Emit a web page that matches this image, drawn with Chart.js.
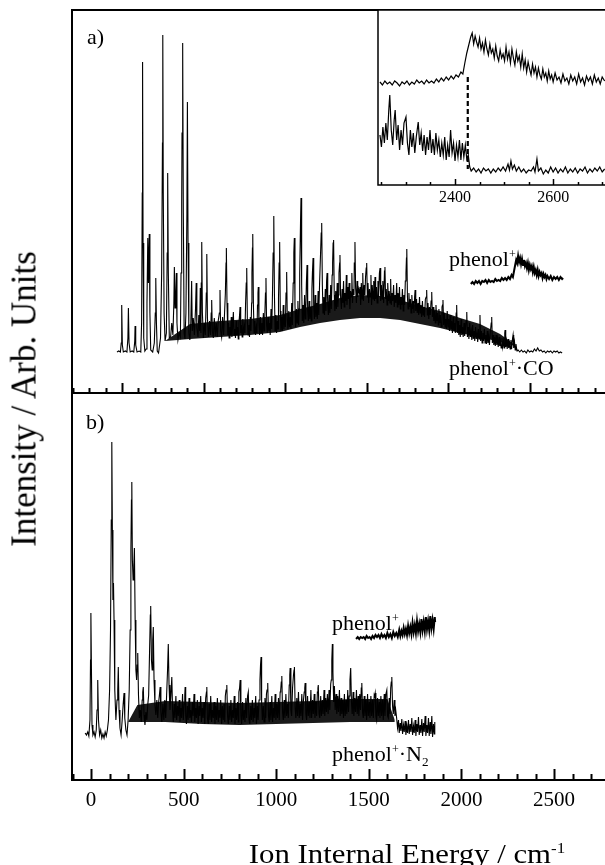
<!DOCTYPE html>
<html>
<head>
<meta charset="utf-8">
<script src="https://cdn.jsdelivr.net/npm/chart.js@4.4.1/dist/chart.umd.min.js"></script>
<style>
  html, body { margin: 0; padding: 0; background: #fff; }
  body { width: 605px; height: 865px; overflow: hidden; position: relative;
         font-family: "Liberation Serif", "Times New Roman", serif; color: #000; }
  canvas { position: absolute; top: 0; }
  .lbl { position: absolute; white-space: nowrap; line-height: 1; }
  .lbl sup { font-size: 55%; vertical-align: 0.65em; line-height: 0; }
  .lbl sub { font-size: 60%; vertical-align: -0.35em; line-height: 0; }
</style>
</head>
<body>
<canvas id="panel-a" width="620" height="400" style="left:0"></canvas>
<canvas id="panel-b" width="620" height="865" style="left:0"></canvas>
<canvas id="inset" width="260" height="220" style="left:360px"></canvas>
<div id="labels"></div>
<script>
(function () {
    "use strict";

    // tick labels
    const energyTicks = [0, 500, 1000, 1500, 2000, 2500];
    const insetTicks = [2400, 2600];

    // a) phenol+.CO : [energy, intensity]
    const coSpectrum = [
        [-31,41],[-20,42],[-10,41],[-5,50],[-2,88],[2,48],[8,41],[20,42],[30,41],[36,55],[39,85],[43,50],[50,41],[62,42],[72,41],[78,52],[80,67],[84,48],[92,41],[105,42],[115,41],[120,70],[124,200],[126,331],[129,150],[133,55],[140,42],[148,44],[153,90],[158,155],[162,110],[167,159],[171,80],[176,43],[188,41],[198,50],[204,80],[207,115],[211,70],[216,42],[224,40],[236,55],[243,120],[248,250],[250,358],[253,200],[258,80],[264,52],[272,60],[277,140],[280,220],[284,120],[290,55],[298,56],[305,70],[312,58],[318,90],[321,126],[325,85],[329,95],[333,120],[337,70],[343,53],[350,60],[358,56],[362,120],[366,191],[368,260],[372,350],[376,180],[381,60],[386,54],[392,80],[398,180],[401,291],[405,150],[410,60],[416,53],[422,70],[427,112],[431,62],[437,75],[444,58],[451,85],[455,110],[459,65],[466,56],[471,78],[476,62],[480,105],[484,60],[486,110],[489,151],[493,80],[499,55],[505,70],[511,58],[517,100],[520,139],[524,75],[530,56],[537,72],[543,58],[547,80],[550,93],[554,62],[560,55],[566,75],[572,57],[578,70],[584,56],[590,72],[597,80],[601,103],[605,62],[611,56],[617,76],[623,58],[629,80],[634,100],[638,130],[640,145],[644,90],
        [649,58],[653,70],[657,55],[662,66],[666,58],[670,76],[674,56],[679,68],[683,81],[687,58],[691,64],[696,55],[700,72],[704,58],[709,66],[713,54],[717,70],[721,78],[724,86],[728,60],[732,68],[737,56],[741,74],[745,58],[750,66],[754,60],[758,90],[762,110],[765,125],[769,72],[773,58],[778,68],[782,56],[787,76],[791,62],[795,90],[797,120],[800,145],[802,159],[806,88],[810,60],[815,72],[819,58],[824,66],[828,60],[831,88],[834,100],[836,106],[840,68],[844,58],[849,76],[853,60],[858,70],[862,58],[867,80],[871,62],[875,72],[880,100],[883,115],[887,68],[891,60],[896,76],[900,62],[905,70],[909,58],[914,84],[918,64],[922,90],[927,140],[931,177],[935,98],[939,62],[944,78],[948,60],[953,72],[957,64],[960,95],[964,130],[967,151],[971,82],[975,62],[980,76],[984,62],[989,88],[993,64],[998,78],[1002,66],[1006,100],[1010,121],[1014,72],[1018,64],[1023,82],[1027,66],[1032,76],[1036,64],[1041,90],[1045,68],[1050,110],[1054,140],[1057,155],[1061,88],[1065,66],[1070,84],[1074,70],[1079,92],[1083,68],[1087,84],[1090,120],[1095,170],[1098,195],[1102,108],[1106,72],[1111,88],[1115,70],[1120,98],[1124,74],[1128,86],[1131,110],[1135,128],[1139,82],[1143,72],[1148,92],[1152,74],[1157,86],[1161,72],[1165,104],[1168,120],[1172,135],[1176,86],[1180,74],[1185,98],[1189,76],[1194,90],[1198,74],[1203,102],[1207,78],[1212,110],[1218,140],[1222,160],[1225,170],[1229,108],[1233,80],[1238,96],[1242,78],[1247,104],[1251,82],[1255,112],[1258,120],[1262,88],[1266,78],[1271,98],[1275,80],[1280,108],[1284,84],[1289,118],[1292,130],[1295,150],[1298,153],[1302,98],[1306,82],[1311,102],[1315,84],[1320,110],[1324,86],[1328,98],[1331,120],[1335,130],[1337,138],
        [1341,95],[1346,84],[1350,104],[1355,90],[1359,112],[1363,86],[1367,100],[1372,92],[1376,118],[1380,88],[1385,106],[1389,94],[1393,110],[1398,84],[1402,102],[1406,96],[1410,120],[1414,90],[1419,104],[1423,98],[1425,130],[1429,151],[1433,105],[1438,90],[1442,112],[1446,96],[1451,104],[1456,100],[1460,106],[1464,88],[1468,110],[1473,94],[1477,120],[1481,92],[1486,108],[1490,98],[1494,116],[1498,125],[1501,130],[1505,96],[1509,110],[1513,90],[1518,104],[1522,96],[1527,118],[1531,88],[1535,108],[1540,94],[1544,112],[1549,92],[1552,116],[1556,94],[1561,106],[1565,90],[1570,112],[1574,96],[1579,120],[1583,125],[1587,92],[1591,108],[1596,94],[1600,112],[1605,90],[1610,122],[1613,126],[1617,94],[1621,104],[1626,88],[1630,110],[1635,92],[1639,102],[1644,90],[1648,114],[1652,88],[1657,100],[1661,92],[1666,108],[1670,86],[1675,98],[1680,90],[1685,110],[1689,86],[1693,100],[1698,88],[1702,106],[1707,84],[1711,96],[1716,88],[1720,104],[1725,82],[1729,98],[1734,88],[1738,112],[1742,120],[1745,135],[1747,144],[1751,96],[1755,84],[1760,100],[1764,86],[1769,94],[1773,80],[1778,98],[1782,84],[1787,92],[1791,80],[1795,96],[1798,103],[1802,82],[1807,94],[1811,80],[1816,90],[1820,78],[1825,96],[1829,80],[1834,88],[1838,76],[1843,92],[1847,78],[1852,86],[1856,76],[1861,94],[1866,96],[1869,103],[1873,78],[1877,90],[1882,74],[1886,86],[1891,78],[1896,92],[1900,101],[1904,76],[1908,86],[1913,72],[1917,82],[1922,70],[1926,88],[1931,72],[1935,80],[1940,68],[1944,84],[1949,70],[1953,78],[1958,66],[1963,86],[1966,88],[1969,93],[1973,68],[1977,80],[1982,66],[1986,74],[1991,64],[1995,82],[2000,66],[2004,74],[2009,62],[2013,78],[2018,64],[2022,72],[2027,60],[2031,76],[2036,62],[2040,70],[2045,60],[2050,80],[2053,88],[2057,60],[2062,72],[2066,58],[2071,68],[2075,56],[2080,74],[2084,58],[2089,66],[2093,56],[2098,70],[2102,57],[2107,64],[2111,72],[2115,81],[2119,56],[2124,66],[2128,54],[2133,70],[2137,56],[2142,62],[2146,53],[2151,68],[2155,54],[2160,62],[2164,52],[2169,66],[2173,54],[2178,60],[2182,51],[2187,64],[2191,54],[2196,78],[2200,52],[2205,62],[2209,50],[2214,60],[2218,52],[2223,64],[2227,50],[2232,58],[2236,49],[2241,62],[2245,50],[2250,56],[2254,48],[2259,60],[2265,70],[2268,76],[2272,50],[2277,58],[2281,48],[2286,56],[2290,47],[2295,58],[2299,48],[2304,54],[2308,46],[2313,56],[2317,47],[2322,52],[2326,45],[2331,55],[2335,46],[2340,52],[2344,45],[2348,60],[2350,63],[2354,46],[2359,52],[2363,44],[2368,54],[2372,45],[2377,50],[2381,44],[2386,53],[2390,44],[2396,55],[2399,58],[2403,45],[2408,51],[2412,43],[2417,49],[2421,44],[2424,42],
        [2430,43],[2440,41],[2450,43],[2460,41],[2470,42],[2480,40],[2490,43],[2500,41],[2510,42],[2520,41],[2530,44],[2540,42],[2550,45],[2560,42],[2570,43],[2580,41],[2590,42],[2600,40],[2610,42],[2620,41],[2630,42],[2640,40],[2650,42],[2660,41],[2670,42],[2680,40],[2690,41],[2700,40]
    ];
    // dense noise band under a)
    const coBandE    = [264, 417, 601, 785, 969, 1092, 1215, 1337, 1460, 1583, 1706, 1828, 1951, 2074, 2196, 2319, 2411];
    const coBandLow  = [52, 54, 56, 58, 61, 66, 70, 73, 75, 75, 73, 69, 65, 60, 56, 51, 47];
    const coBandHigh = [52, 69, 72, 74, 78, 84, 89, 95, 98, 97, 93, 87, 82, 75, 69, 59, 48];

    // a) bare phenol+ reference trace
    const phenolA = [
        [2140,109],[2150,111],[2160,109],[2170,112],[2180,110],[2190,112],[2200,109],[2210,112],[2220,111],[2230,113],[2240,110],[2250,113],[2260,111],[2270,112],[2280,111],[2290,114],[2300,112],[2310,113],[2320,112],[2330,115],[2340,113],[2350,115],[2360,113],[2370,116],[2380,114],[2390,118],[2398,116],[2405,122],[2412,128],[2418,133],[2424,130],[2430,137],[2436,131],[2442,135],[2448,129],[2454,134],[2460,128],[2466,133],[2472,127],[2478,130],[2484,125],[2490,130],[2496,123],[2502,128],[2508,124],[2514,127],[2520,121],[2526,126],[2532,120],[2538,123],[2544,118],[2550,123],[2556,117],[2562,121],[2568,118],[2574,120],[2580,115],[2586,119],[2592,116],[2598,118],[2604,114],[2610,117],[2620,114],[2630,117],[2640,113],[2650,116],[2660,114],[2670,116],[2680,113],[2690,116],[2700,114],[2706,115]
    ];

    // b) phenol+.N2
    const n2Spectrum = [
        [-32,47],[-25,45],[-18,48],[-12,44],[-6,60],[-3,120],[-1,167],[2,110],[5,55],[10,45],[16,48],[22,43],[28,50],[32,70],[36,100],[40,60],[46,45],[52,50],[58,42],[64,46],[70,42],[76,48],[82,44],[88,50],[94,60],[100,90],[105,150],[109,260],[112,338],[115,250],[118,180],[121,197],[124,160],[128,90],[134,60],[140,80],[144,90],[147,113],[151,70],[156,52],[162,45],[168,60],[173,75],[178,87],[182,62],[188,50],[194,45],[200,60],[206,90],[211,150],[215,230],[218,280],[220,298],[223,220],[227,200],[231,215],[234,232],[238,160],[242,110],[246,100],[249,115],[252,127],[256,85],[261,62],[266,70],[271,58],[276,80],[279,88],[282,93],[286,65],[291,55],[296,68],[301,60],[306,75],[311,85],[316,130],[320,165],[322,174],[326,120],[330,110],[333,140],[336,153],[340,100],[345,75],[350,65],[355,80],[360,62],[365,78],[369,85],[373,93],[377,68],[382,58],[388,76],[393,60],[398,80],[403,62],[408,85],[413,110],[417,136],[421,95],[426,70],[431,85],[436,103],
        [440,70],[444,58],[449,76],[453,62],[458,84],[462,60],[467,74],[471,64],[476,80],[480,58],[485,72],[489,62],[494,86],[498,60],[503,76],[506,85],[508,93],[511,64],[515,56],[520,74],[524,60],[529,82],[533,62],[538,70],[542,58],[547,78],[551,64],[556,86],[560,58],[565,72],[569,62],[574,80],[578,56],[583,74],[587,64],[592,84],[596,58],[601,72],[605,62],[610,78],[614,56],[619,82],[623,88],[625,93],[628,62],[633,56],[637,76],[642,60],[646,84],[651,58],[655,70],[660,62],[664,78],[669,56],[673,74],[678,60],[682,82],[687,58],[691,70],[696,62],[700,80],[705,56],[709,74],[714,60],[718,76],[722,58],[725,84],[729,90],[733,95],[737,64],[741,56],[746,74],[750,60],[755,80],[759,58],[764,70],[768,62],[773,84],[777,56],[782,72],[786,60],[791,78],[795,58],[798,88],[802,92],[805,100],[809,64],[813,56],[818,78],[822,60],[827,70],[831,58],[836,82],[840,62],[845,84],[849,88],[853,60],[857,56],[862,74],[866,60],[871,80],[875,58],[880,72],[884,62],[889,84],[893,56],[898,74],[902,60],[907,80],[912,100],[915,115],[918,123],[921,78],[925,60],[930,74],[934,58],[939,82],[943,62],[947,86],[950,90],[954,97],[958,64],[962,58],[967,78],[971,60],[976,84],[980,58],[985,72],[989,62],[994,86],[998,60],[1003,76],[1007,62],[1012,82],[1016,60],[1021,88],[1024,90],[1027,98],[1030,104],[1034,68],[1038,60],[1043,80],[1047,62],[1052,86],[1056,64],[1061,76],[1065,62],[1070,95],[1073,105],[1075,112],[1079,70],[1083,64],[1088,92],[1093,105],[1096,110],[1098,113],[1102,72],[1106,62],[1111,82],[1115,64],[1120,88],[1124,62],[1129,76],[1133,64],[1138,86],[1142,60],[1147,80],[1151,88],[1154,92],[1156,97],[1160,66],[1164,60],[1169,84],[1173,64],[1178,78],[1182,62],[1187,90],[1191,62],[1196,80],[1200,66],[1205,86],[1209,62],[1214,78],[1218,64],[1222,88],[1225,92],[1227,95],[1231,66],[1235,62],[1240,84],[1244,64],[1249,80],[1253,66],[1258,90],[1262,64],[1267,82],[1271,68],[1276,86],[1280,66],[1285,90],[1289,70],[1294,96],[1297,100],[1300,120],[1303,136],[1306,108],[1310,78],[1314,94],[1318,70],[1323,86],[1327,66],[1332,84],[1336,68],[1341,90],[1345,64],[1350,82],[1354,66],[1359,80],[1363,62],[1368,86],[1372,64],[1377,80],[1381,66],[1386,90],[1390,68],[1394,84],[1398,100],[1402,112],[1406,78],[1410,66],[1415,88],[1419,64],[1424,82],[1428,68],[1433,90],[1437,66],[1442,84],[1446,64],[1451,86],[1455,70],[1459,92],[1462,97],[1466,68],[1470,62],[1475,84],[1479,64],[1484,80],[1488,60],[1493,86],[1497,64],[1502,78],[1506,62],[1511,84],[1515,64],[1520,80],[1524,62],[1529,85],[1531,84],[1534,87],[1538,64],[1542,60],[1547,82],[1551,64],[1556,78],[1560,62],[1565,84],[1569,64],[1574,80],[1578,60],[1583,86],[1587,64],[1592,86],[1597,90],[1601,64],[1605,62],[1610,82],[1614,66],[1618,92],[1621,98],[1624,103],[1628,74],[1632,66],[1637,80],[1641,64],[1645,70],[1650,62],
        [1655,52],[1660,60],[1664,47],[1669,57],[1673,49],[1678,61],[1682,46],[1687,55],[1691,48],[1696,59],[1700,45],[1705,54],[1709,47],[1714,60],[1718,46],[1723,56],[1727,48],[1732,62],[1736,45],[1741,54],[1745,47],[1750,60],[1754,44],[1759,56],[1763,48],[1768,63],[1772,45],[1777,55],[1781,47],[1786,61],[1790,44],[1795,57],[1799,48],[1804,64],[1808,44],[1813,55],[1817,47],[1822,62],[1826,44],[1831,58],[1835,46],[1840,64],[1844,43],[1849,56],[1853,46],[1856,58]
    ];
    const n2BandE    = [200, 250, 400, 600, 800, 1000, 1200, 1400, 1600, 1640];
    const n2BandLow  = [58, 58, 58, 56, 55, 56, 57, 58, 58, 58];
    const n2BandHigh = [58, 75, 79, 78, 77, 78, 79, 81, 81, 60];

    // b) bare phenol+ reference trace
    const phenolB = [
        [1431,141],[1440,143],[1448,141],[1456,143],[1464,142],[1472,143],[1480,141],[1488,144],[1496,142],[1504,143],[1512,141],[1520,144],[1528,142],[1536,145],[1544,143],[1552,145],[1560,142],[1568,146],[1576,143],[1584,145],[1592,142],[1600,147],[1608,143],[1616,146],[1624,142],[1632,148],[1640,144],[1648,147],[1656,143],[1664,150],[1670,144],[1676,149],[1682,145],[1688,152],[1694,146],[1700,151],[1706,145],[1712,154],[1718,147],[1724,153],[1730,146],[1736,157],[1742,148],[1748,155],[1754,147],[1760,159],[1766,149],[1772,156],[1778,148],[1784,161],[1790,150],[1796,158],[1802,149],[1808,163],[1814,151],[1820,159],[1826,150],[1832,164],[1838,152],[1844,160],[1850,151],[1856,163],[1858,158]
    ];

    // inset: dissociation threshold region
    const insetPhenol = [
        [2247,103],[2252,100],[2257,104],[2262,101],[2267,103],[2272,100],[2277,104],[2282,102],[2287,99],[2292,103],[2297,101],[2302,104],[2307,100],[2312,103],[2317,101],[2322,105],[2327,102],[2332,104],[2337,101],[2342,105],[2347,102],[2352,104],[2357,102],[2362,106],[2367,103],[2372,107],[2377,104],[2382,108],[2387,105],[2392,109],[2397,106],[2402,110],[2407,108],[2412,113],[2416,111],[2420,122],[2424,132],[2428,140],[2432,148],[2435,152],[2438,141],[2441,149],[2444,143],[2447,138],[2450,147],[2453,136],[2456,142],[2459,133],[2462,145],[2465,136],[2468,130],[2471,141],[2474,132],[2477,136],[2480,127],[2483,139],[2486,129],[2489,124],[2492,135],[2495,127],[2498,131],[2501,124],[2504,138],[2507,126],[2510,133],[2513,122],[2516,136],[2519,127],[2522,120],[2525,133],[2528,124],[2531,129],[2534,118],[2537,131],[2540,117],[2543,125],[2546,113],[2549,123],[2552,116],[2555,110],[2558,121],[2561,112],[2564,118],[2567,108],[2570,117],[2573,110],[2576,106],[2579,116],[2582,108],[2585,112],[2588,104],[2591,114],[2594,106],[2597,110],[2600,103],[2604,112],[2608,105],[2612,108],[2616,102],[2620,111],[2624,104],[2628,107],[2632,101],[2636,110],[2640,104],[2644,108],[2648,101],[2652,111],[2656,103],[2660,107],[2664,100],[2668,109],[2672,104],[2676,108],[2680,101],[2684,110],[2688,103],[2692,107],[2696,101],[2700,108],[2705,104]
    ];
    const insetCO = [
        [2247,50],[2250,38],[2253,58],[2256,42],[2259,62],[2262,45],[2265,75],[2267,90],[2270,55],[2273,40],[2276,65],[2278,75],[2281,45],[2284,60],[2287,35],[2290,55],[2293,40],[2296,62],[2300,68],[2303,42],[2306,30],[2309,55],[2312,38],[2315,52],[2318,32],[2321,48],[2325,63],[2328,40],[2331,52],[2334,34],[2337,50],[2340,30],[2343,48],[2346,35],[2349,55],[2352,32],[2355,46],[2358,30],[2361,52],[2364,35],[2367,45],[2370,28],[2373,42],[2376,30],[2379,48],[2382,25],[2385,40],[2388,28],[2391,55],[2394,32],[2397,42],[2400,24],[2403,40],[2406,28],[2409,45],[2412,25],[2415,42],[2418,28],[2421,40],[2424,26],[2427,30],[2430,18],[2433,14],[2438,17],[2443,13],[2448,16],[2453,12],[2458,17],[2463,14],[2468,16],[2473,12],[2478,16],[2483,13],[2488,17],[2493,14],[2498,18],[2503,14],[2508,21],[2511,15],[2514,24],[2517,16],[2521,20],[2525,14],[2530,18],[2535,13],[2540,16],[2545,12],[2550,15],[2555,14],[2560,18],[2563,13],[2567,26],[2570,14],[2575,17],[2580,11],[2585,15],[2590,12],[2595,18],[2600,13],[2605,17],[2610,12],[2615,16],[2620,13],[2625,18],[2630,12],[2635,16],[2640,13],[2645,17],[2650,12],[2655,16],[2660,14],[2665,18],[2670,12],[2675,16],[2680,13],[2685,17],[2690,14],[2695,18],[2700,13],[2705,16]
    ];
    const insetEdge = [[2426,108],[2426,16]];

    const SERIF = '"Liberation Serif", "Times New Roman", serif';

    // frame + inward tick marks, the way the original figure draws them
    const frameTicks = {
        id: "frameTicks",
        beforeDatasetsDraw(chart, args, o) {
            if (!o.fillBg) return;
            const a = chart.chartArea, ctx = chart.ctx;
            ctx.save();
            ctx.fillStyle = "#fff";
            ctx.fillRect(a.left, a.top, a.right - a.left, a.bottom - a.top);
            ctx.restore();
        },
        afterDatasetsDraw(chart, args, o) {
            const a = chart.chartArea, ctx = chart.ctx, x = chart.scales.x;
            ctx.save();
            ctx.strokeStyle = "#000";
            ctx.lineWidth = o.tickWidth;
            const start = Math.ceil(x.min / o.minor) * o.minor;
            for (let v = start; v <= x.max; v += o.minor) {
                const px = Math.round(x.getPixelForValue(v)) + 0.5;
                const len = v % o.major === 0 ? o.majorLen : o.minorLen;
                ctx.beginPath();
                ctx.moveTo(px, a.bottom);
                ctx.lineTo(px, a.bottom - len);
                ctx.stroke();
            }
            ctx.lineWidth = o.frameWidth;
            ctx.strokeRect(a.left, a.top, a.right - a.left, a.bottom - a.top);
            ctx.restore();
        }
    };

    function trace(points, width, extra) {
        return Object.assign({
            data: points.map(function (p) { return { x: p[0], y: p[1] }; }),
            borderColor: "#000",
            borderWidth: width,
            pointRadius: 0,
            fill: false,
            order: 0
        }, extra || {});
    }

    function band(E, low, high) {
        return [
            {
                data: E.map(function (e, i) { return { x: e, y: low[i] }; }),
                borderColor: "rgba(0,0,0,0)", borderWidth: 0, pointRadius: 0, fill: false, order: 1
            },
            {
                data: E.map(function (e, i) { return { x: e, y: high[i] }; }),
                borderColor: "rgba(0,0,0,0)", borderWidth: 0, pointRadius: 0,
                fill: "-1", backgroundColor: "#1a1a1a", order: 1
            }
        ];
    }

    function baseOptions(padding, xScale, yMax, ticks) {
        return {
            responsive: false,
            animation: false,
            devicePixelRatio: 1,
            layout: { padding: padding },
            plugins: { legend: { display: false }, tooltip: { enabled: false }, frameTicks: ticks },
            scales: { x: xScale, y: { display: false, min: 0, max: yMax } },
            elements: { line: { tension: 0 } }
        };
    }

    function labelAxis(min, max, values, size, pad, height) {
        return {
            type: "linear", min: min, max: max,
            afterBuildTicks: function (s) { s.ticks = values.map(function (v) { return { value: v }; }); },
            afterFit: function (s) { s.height = height; },
            grid: { display: false, drawTicks: false },
            border: { display: false },
            ticks: { color: "#000", autoSkip: false, maxRotation: 0, padding: pad,
                     font: { family: SERIF, size: size },
                     callback: function (v) { return String(v); } }
        };
    }

    // panel a
    new Chart(document.getElementById("panel-a"), {
        type: "line",
        data: { datasets: [trace(coSpectrum, 1.1), trace(phenolA, 2)].concat(band(coBandE, coBandLow, coBandHigh)) },
        options: baseOptions({ left: 72, top: 10, right: 8, bottom: 7 },
            { type: "linear", display: false, min: -307, max: 3006 }, 383,
            { minor: 100, major: 500, minorLen: 5, majorLen: 10, tickWidth: 2, frameWidth: 2 }),
        plugins: [frameTicks]
    });

    // panel b
    new Chart(document.getElementById("panel-b"), {
        type: "line",
        data: { datasets: [trace(n2Spectrum, 1.1), trace(phenolB, 2)].concat(band(n2BandE, n2BandLow, n2BandHigh)) },
        options: baseOptions({ left: 72, top: 393, right: 8, bottom: 0 },
            labelAxis(-103, 2813, energyTicks, 21, 8, 85), 387,
            { minor: 100, major: 500, minorLen: 6, majorLen: 11, tickWidth: 2, frameWidth: 2 }),
        plugins: [frameTicks]
    });

    // inset
    new Chart(document.getElementById("inset"), {
        type: "line",
        data: { datasets: [
            trace(insetPhenol, 1.2),
            trace(insetCO, 1.2),
            trace(insetEdge, 2.2, { borderDash: [5, 3] })
        ] },
        options: baseOptions({ left: 18, top: 10, right: 8, bottom: 0 },
            labelAxis(2243, 2720, insetTicks, 16, 3, 35), 175,
            { minor: 50, major: 200, minorLen: 3, majorLen: 6, tickWidth: 1.5, frameWidth: 1.5, fillBg: true }),
        plugins: [frameTicks]
    });

    // text
    const labels = [
        { html: "a)", x: 87, base: 44, size: 22 },
        { html: "b)", x: 86, base: 429, size: 22 },
        { html: "phenol<sup>+</sup>", x: 449, base: 266, size: 22 },
        { html: "phenol<sup>+</sup>·CO", x: 449, base: 375, size: 22 },
        { html: "phenol<sup>+</sup>", x: 332, base: 630, size: 22 },
        { html: "phenol<sup>+</sup>·N<sub>2</sub>", x: 332, base: 761, size: 22 }
    ];
    const host = document.getElementById("labels");
    labels.forEach(function (l) {
        const d = document.createElement("div");
        d.className = "lbl";
        d.innerHTML = l.html;
        d.style.fontSize = l.size + "px";
        d.style.left = l.x + "px";
        d.style.top = (l.base - 0.8375 * l.size) + "px";
        host.appendChild(d);
    });

    const yTitle = document.createElement("div");
    yTitle.className = "lbl";
    yTitle.textContent = "Intensity / Arb. Units";
    yTitle.style.fontSize = "35px";
    yTitle.style.left = "24px";
    yTitle.style.top = "399px";
    yTitle.style.transform = "translate(-50%, -50%) rotate(-90deg)";
    host.appendChild(yTitle);

    const xTitle = document.createElement("div");
    xTitle.className = "lbl";
    xTitle.innerHTML = "Ion Internal Energy / cm<sup>-1</sup>";
    xTitle.style.fontSize = "28px";
    xTitle.style.left = "407px";
    xTitle.style.top = (863 - 0.8375 * 28) + "px";
    xTitle.style.transform = "translateX(-50%) scaleX(1.1)";
    host.appendChild(xTitle);
})();
</script>
</body>
</html>
